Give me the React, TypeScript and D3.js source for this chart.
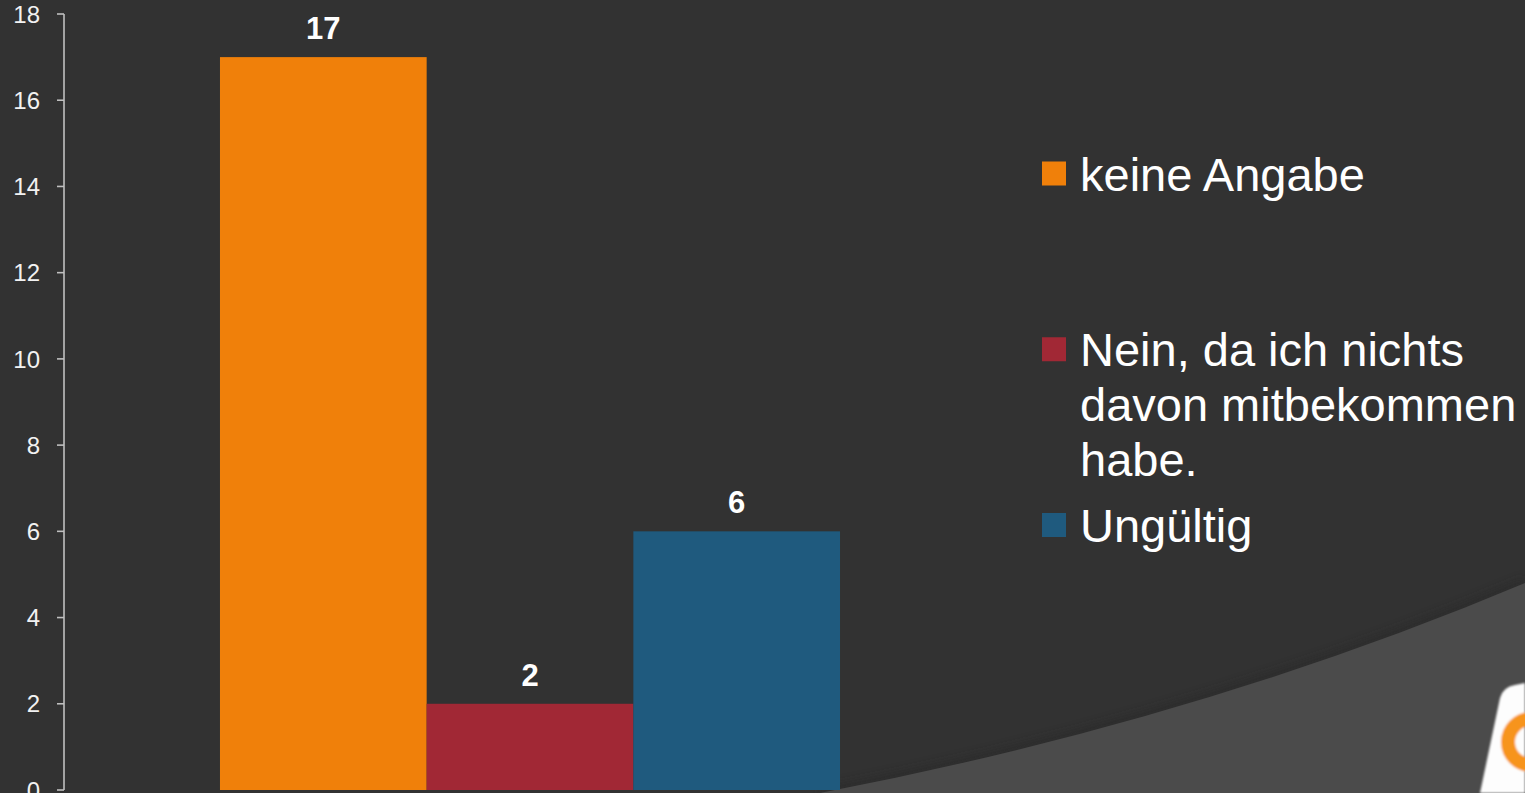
import { useEffect } from "react";
import * as d3 from "d3";

const category = "Antwort";
const seriesNames = ["keine Angabe", "Nein, da ich nichts davon mitbekommen habe.", "Ungültig"];
const seriesValues = [17, 2, 6];
const seriesColors = ["#f0800a", "#a12835", "#1f5a7e"];
const legendLines = [["keine Angabe"], ["Nein, da ich nichts", "davon mitbekommen", "habe."], ["Ungültig"]];
const yTickValues = [0, 2, 4, 6, 8, 10, 12, 14, 16, 18];

const W = 1525;
const H = 793;
const FONT = "'Liberation Sans', Arial, sans-serif";

export default function App() {
  useEffect(() => {
    document.body.style.margin = "0";
  }, []);

  const margin = { top: 14, bottom: 3, left: 64, right: 529 };
  const y = d3.scaleLinear().domain([0, 18]).range([H - margin.bottom, margin.top]);
  const x0 = d3
    .scaleBand()
    .domain([category])
    .range([margin.left, W - margin.right])
    .padding(0.201);
  const x1 = d3.scaleBand().domain(seriesNames).range([0, x0.bandwidth()]).padding(0);

  const groupX = x0(category) ?? 0;
  const legendY = d3.scaleLinear().domain([0, 2]).range([173.5, 525]);

  // background swoosh bottom right
  const swoosh = d3.path();
  swoosh.moveTo(820, H);
  swoosh.quadraticCurveTo(1200, 720, W, 583);
  const swooshFill = swoosh.toString() + `L${W},${H}Z`;

  return (
    <div style={{ position: "fixed", left: 0, top: 0, width: W, height: H }}>
      <svg width={W} height={H} style={{ display: "block" }}>
        <defs>
          <filter id="blur" x="-10%" y="-50%" width="120%" height="200%">
            <feGaussianBlur stdDeviation="4" />
          </filter>
          <filter id="soft" x="-20%" y="-20%" width="140%" height="140%">
            <feGaussianBlur stdDeviation="1.2" />
          </filter>
        </defs>
        <rect width={W} height={H} fill="#323232" />
        <path d={swoosh.toString()} fill="none" stroke="#262626" strokeWidth={10} opacity={0.5} filter="url(#blur)" />
        <path d={swooshFill} fill="#4b4b4b" />

        {/* logo corner */}
        <g filter="url(#soft)">
          <path d="M1480,793 L1500,698 Q1503,687 1515,685 L1525,683 L1525,793 Z" fill="#fdfdfd" />
          <circle cx={1531} cy={742} r={23} fill="none" stroke="#f7941d" strokeWidth={14} />
        </g>

        {/* y axis */}
        <g fontFamily={FONT} fontSize={24} fill="#f2f2f2">
          <line x1={margin.left} x2={margin.left} y1={y(18)} y2={y(0)} stroke="#bfbfbf" strokeWidth={1.6} />
          {yTickValues.map((t) => (
            <g key={t}>
              <line x1={margin.left - 7} x2={margin.left} y1={y(t)} y2={y(t)} stroke="#bfbfbf" strokeWidth={1.6} />
              <text x={40} y={y(t)} dy="0.36em" textAnchor="end">
                {t}
              </text>
            </g>
          ))}
        </g>

        {/* bars */}
        <g>
          {seriesNames.map((name, i) => (
            <rect
              key={name}
              x={groupX + (x1(name) ?? 0)}
              y={y(seriesValues[i])}
              width={x1.bandwidth()}
              height={y(0) - y(seriesValues[i])}
              fill={seriesColors[i]}
            />
          ))}
        </g>

        {/* data labels */}
        <g fontFamily={FONT} fontSize={31} fontWeight="bold" fill="#ffffff" textAnchor="middle">
          {seriesNames.map((name, i) => (
            <text key={name} x={groupX + (x1(name) ?? 0) + x1.bandwidth() / 2} y={y(seriesValues[i]) - 18}>
              {seriesValues[i]}
            </text>
          ))}
        </g>

        {/* legend */}
        <g fontFamily={FONT} fontSize={47} fill="#ffffff">
          {seriesNames.map((name, i) => (
            <g key={name}>
              <rect x={1042} y={legendY(i) - 12} width={24} height={24} fill={seriesColors[i]} />
              {legendLines[i].map((line, j) => (
                <text key={j} x={1080} y={legendY(i) + 17 + j * 55}>
                  {line}
                </text>
              ))}
            </g>
          ))}
        </g>
      </svg>
    </div>
  );
}
